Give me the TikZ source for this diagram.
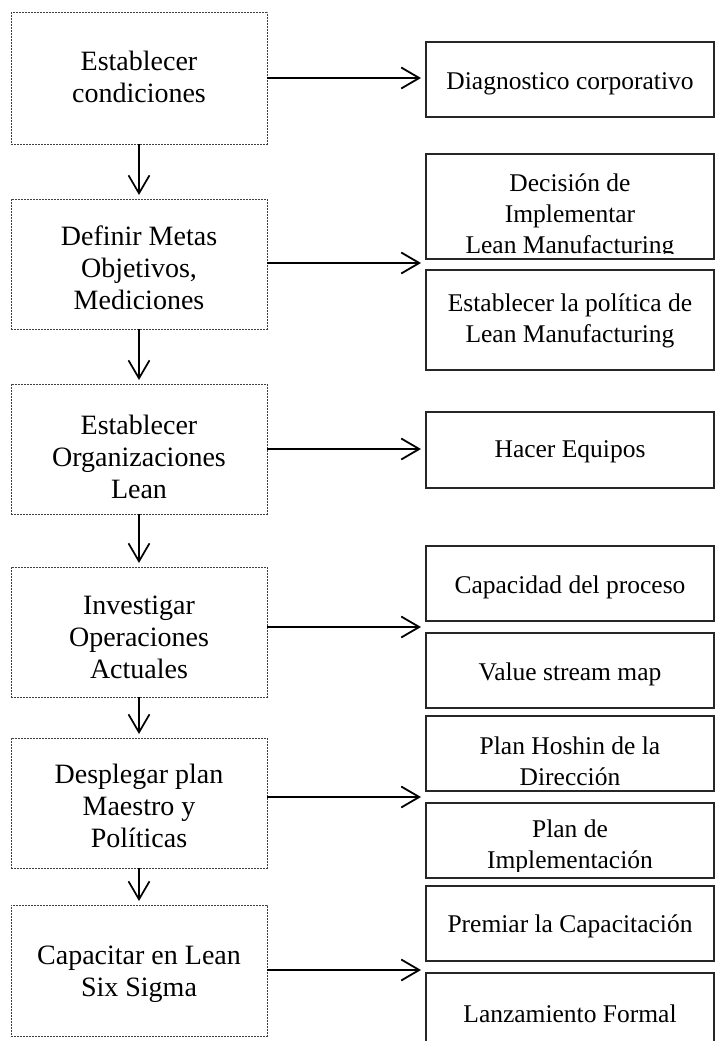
\documentclass[tikz,border=0pt]{standalone}
\usepackage{fontspec}
\setmainfont{Liberation Serif}
\usetikzlibrary{arrows.meta}
\begin{document}
\begin{tikzpicture}[x=1pt,y=-1pt,
 lbox/.style={draw=black!75, dash pattern=on 1.6pt off 1.4pt, line width=1pt, minimum width=256pt, anchor=north west, inner sep=0pt, outer sep=0pt},
 rbox/.style={draw=black!85, line width=1.3pt, minimum width=288pt, anchor=north west, inner sep=0pt, outer sep=0pt},
 ltext/.style={align=center, font=\fontsize{28}{32}\selectfont, inner sep=0pt},
 rtext/.style={align=center, font=\fontsize{25.5}{31}\selectfont, inner sep=0pt},
 harr/.style={line width=2.4pt, -{Straight Barb[length=18pt,width=21pt,line width=1.8pt]}},
 varr/.style={line width=1.7pt, -{Straight Barb[length=18pt,width=21pt,line width=1.7pt]}},
]
\clip (0,0) rectangle (715,1041);
\fill[white] (0,0) rectangle (715,1041);

% left column
\node[lbox, minimum height=131pt] (L1) at (11,13) {};
\node[lbox, minimum height=130pt] (L2) at (11,199) {};
\node[lbox, minimum height=130pt] (L3) at (11,384) {};
\node[lbox, minimum height=130pt] (L4) at (11,567) {};
\node[lbox, minimum height=130pt] (L5) at (11,738) {};
\node[lbox, minimum height=131pt] (L6) at (11,905) {};

\node[ltext] (L1t) at (139,77) {Establecer\\condiciones};
\node[ltext] (L2t) at (139,268) {Definir Metas\\Objetivos,\\Mediciones};
\node[ltext] (L3t) at (139,457) {Establecer\\Organizaciones\\Lean};
\node[ltext] (L4t) at (139,637) {Investigar\\Operaciones\\Actuales};
\node[ltext] (L5t) at (139,806) {Desplegar plan\\Maestro y\\Políticas};
\node[ltext] (L6t) at (139,974) {Capacitar en Lean\\Six Sigma};

% right column
\node[rbox, minimum height=75pt] (R1) at (426,42) {};
\node[rbox, minimum height=105pt] (R2a) at (426,154) {};
\node[rbox, minimum height=100pt] (R2b) at (426,270) {};
\node[rbox, minimum height=76pt] (R3) at (426,412) {};
\node[rbox, minimum height=75pt] (R4a) at (426,546) {};
\node[rbox, minimum height=75pt] (R4b) at (426,633) {};
\node[rbox, minimum height=75pt] (R5a) at (426,716) {};
\node[rbox, minimum height=75pt] (R5b) at (426,803) {};
\node[rbox, minimum height=75pt] (R6a) at (426,886) {};
\node[rbox, minimum height=90pt] (R6b) at (426,973) {};

\node[rtext] (R1t) at (570,84) {Diagnostico corporativo};
\begin{scope}
 \clip (R2a.north west) rectangle ([yshift=6pt]R2a.south east);
 \node[rtext] (R2at) at (570,216) {Decisión de\\Implementar\\Lean Manufacturing};
\end{scope}
\node[rtext] (R2bt) at (570,321) {Establecer la política de\\Lean Manufacturing};
\node[rtext] (R3t) at (570,452) {Hacer Equipos};
\node[rtext] (R4at) at (570,587) {Capacidad del proceso};
\node[rtext] (R4bt) at (570,674) {Value stream map};
\node[rtext] (R5at) at (570,761) {Plan Hoshin de la\\Dirección};
\begin{scope}
 \clip (R5b.north west) rectangle ([yshift=7pt]R5b.south east);
 \node[rtext] (R5bt) at (570,847) {Plan de\\Implementación};
\end{scope}
\node[rtext] (R6at) at (570,926) {Premiar la Capacitación};
\node[rtext] (R6bt) at (570,1014) {Lanzamiento Formal};

% horizontal arrows
\coordinate (t1) at (421,78);
\coordinate (t2) at (421,263);
\coordinate (t3) at (421,449);
\coordinate (t4) at (421,627);
\coordinate (t5) at (421,797);
\coordinate (t6) at (421,970);
\draw[harr] (L1.east |- t1) -- (t1);
\draw[harr] (L2.east |- t2) -- (t2);
\draw[harr] (L3.east |- t3) -- (t3);
\draw[harr] (L4.east |- t4) -- (t4);
\draw[harr] (L5.east |- t5) -- (t5);
\draw[harr] (L6.east |- t6) -- (t6);

% vertical arrows
\draw[varr] (L1.south) -- ([yshift=4pt]L2.north);
\draw[varr] (L2.south) -- ([yshift=4pt]L3.north);
\draw[varr] (L3.south) -- ([yshift=4pt]L4.north);
\draw[varr] (L4.south) -- ([yshift=4pt]L5.north);
\draw[varr] (L5.south) -- ([yshift=4pt]L6.north);
\end{tikzpicture}
\end{document}
